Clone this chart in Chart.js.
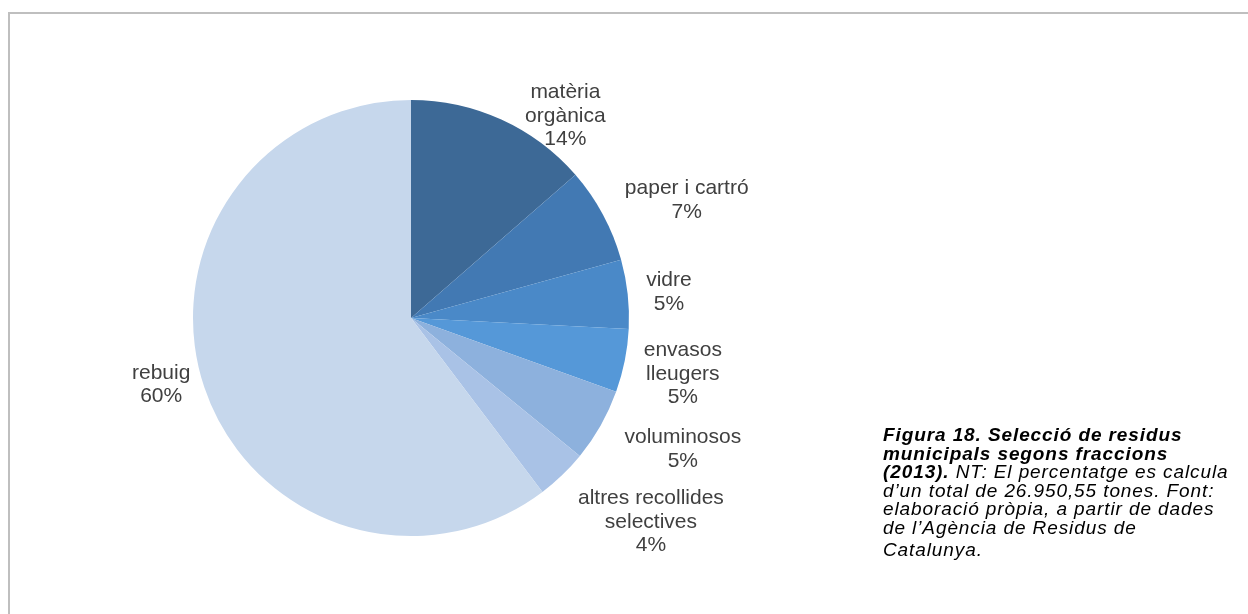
<!DOCTYPE html>
<html>
<head>
<meta charset="utf-8">
<script src="https://cdn.jsdelivr.net/npm/chart.js@4/dist/chart.umd.min.js"></script>
<style>
  body { margin: 0; background: #fff; }
  .frame {
    position: absolute; left: 8px; top: 12px; width: 1240px; height: 602px;
    border-left: 2px solid #bfbfbf; border-top: 2px solid #bfbfbf;
  }
  .wrap { position: absolute; left: 0; top: 0; width: 1248px; height: 614px; }
  .caption {
    position: absolute; left: 883px; top: 426px;
    font-family: "Liberation Sans", Arial, sans-serif; font-size: 19px;
    letter-spacing: 0.9px;
    font-style: italic; color: #000; line-height: 18.6px; white-space: nowrap;
  }
  .caption b { font-weight: bold; }
  .caption .last { margin-top: 3px; }
</style>
</head>
<body>
<div class="frame"></div>
<div class="wrap"><canvas id="pie"></canvas></div>
<div class="caption">
  <div><b>Figura 18. Selecció de residus</b></div>
  <div><b>municipals segons fraccions</b></div>
  <div><b>(2013).</b> NT: El percentatge es calcula</div>
  <div>d’un total de 26.950,55 tones. Font:</div>
  <div>elaboració pròpia, a partir de dades</div>
  <div>de l’Agència de Residus de</div>
  <div class="last">Catalunya.</div>
</div>
<script>
// categories (label lines) and their shares of the total
const labels = [
  ["matèria", "orgànica"],
  ["paper i cartró"],
  ["vidre"],
  ["envasos", "lleugers"],
  ["voluminosos"],
  ["altres recollides", "selectives"],
  ["rebuig"]
];
const values = [13.6, 7.1, 5.1, 4.7, 5.4, 3.8, 60.3];
const colors = ["#3d6996", "#4279b3", "#4a89c8", "#5598d8", "#8db1dd", "#a9c2e6", "#c6d7ec"];

// where each label sits: angle (deg, clockwise from top) and distance in pie radii
const labelPos = [
  [37.4, 1.166],
  [66.9, 1.375],
  [84.3, 1.189],
  [101.6, 1.273],
  [115.8, 1.385],
  [130.4, 1.445],
  [255.1, 1.186]
];

const total = values.reduce((a, b) => a + b, 0);

// draws the Excel-style labels next to the slices
const sliceLabels = {
  id: "sliceLabels",
  afterDatasetsDraw(chart) {
    const ctx = chart.ctx;
    const arcs = chart.getDatasetMeta(0).data;
    ctx.save();
    ctx.font = '21px "Liberation Sans", Arial, sans-serif';
    ctx.fillStyle = "#404040";
    ctx.textAlign = "center";
    ctx.textBaseline = "middle";
    const lineH = 23.5;
    arcs.forEach((arc, i) => {
      const a = labelPos[i][0] * Math.PI / 180;
      const d = arc.outerRadius * labelPos[i][1];
      const cx = arc.x + Math.sin(a) * d;
      const cy = arc.y - Math.cos(a) * d;
      const lines = labels[i].concat([Math.round(values[i] / total * 100) + "%"]);
      const top = cy - (lines.length - 1) * lineH / 2;
      lines.forEach((t, j) => ctx.fillText(t, cx, top + j * lineH));
    });
    ctx.restore();
  }
};

new Chart(document.getElementById("pie"), {
  type: "pie",
  data: {
    labels: labels.map(l => l.join(" ")),
    datasets: [
      {
        data: values,
        backgroundColor: colors,
        borderWidth: 0
      }
    ]
  },
  options: {
    responsive: true,
    maintainAspectRatio: false,
    animation: false,
    layout: {
      padding: { left: 193, right: 619, top: 99, bottom: 77 }
    },
    plugins: {
      legend: { display: false },
      tooltip: { enabled: false }
    }
  },
  plugins: [sliceLabels]
});
</script>
</body>
</html>
